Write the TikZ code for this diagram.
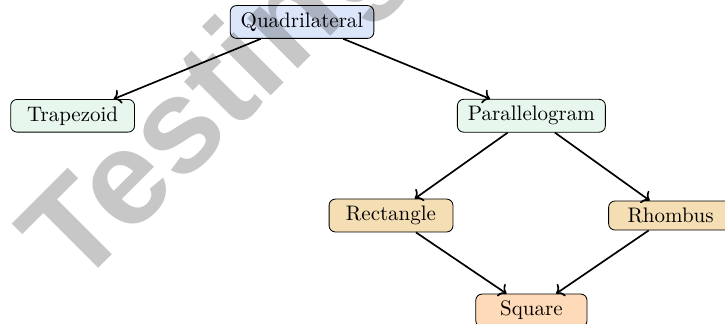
\documentclass[tikz,border=0pt]{standalone}
\usepackage{fontspec}
\usepackage{tikz}
\usetikzlibrary{arrows.meta,positioning}
\newfontfamily\wmfont{Liberation Sans}
\definecolor{quadblue}{RGB}{220,230,250}
\definecolor{paragreen}{RGB}{232,247,238}
\definecolor{recttan}{RGB}{245,222,179}
\definecolor{sqpeach}{RGB}{255,218,185}

\begin{document}
\begin{tikzpicture}[
  shp/.style={draw,rounded corners=3pt,inner xsep=5pt,minimum width=59pt,align=center},
  arr/.style={->,thick},
  on grid]
  \useasboundingbox (-5.056,0.368) rectangle (7.081,-5.056);
  \node[shp,fill=quadblue,minimum width=0pt] (quad) {Quadrilateral};
  \node[shp,fill=paragreen,below left=1.57cm and 3.84cm of quad] (trap) {Trapezoid};
  \node[shp,fill=paragreen,below right=1.57cm and 3.84cm of quad] (para) {Parallelogram};
  \node[shp,fill=recttan,below left=1.67cm and 2.35cm of para] (rect) {Rectangle};
  \node[shp,fill=recttan,below right=1.67cm and 2.33cm of para] (rhom) {Rhombus};
  \node[shp,fill=sqpeach,minimum width=53pt,below=3.26cm of para] (sq) {Square};
  \draw[arr] (quad)--(trap);
  \draw[arr] (quad)--(para);
  \draw[arr] (para)--(rect);
  \draw[arr] (para)--(rhom);
  \draw[arr] (rect)--(sq);
  \draw[arr] (rhom)--(sq);
  % watermark
  \node[anchor=base west,rotate=45,inner sep=0pt,text=black,text opacity=0.22,
    font=\wmfont\bfseries\fontsize{64}{64}\selectfont] (wm) at (-3.78,-4.50) {Testing};
\end{tikzpicture}
\end{document}
